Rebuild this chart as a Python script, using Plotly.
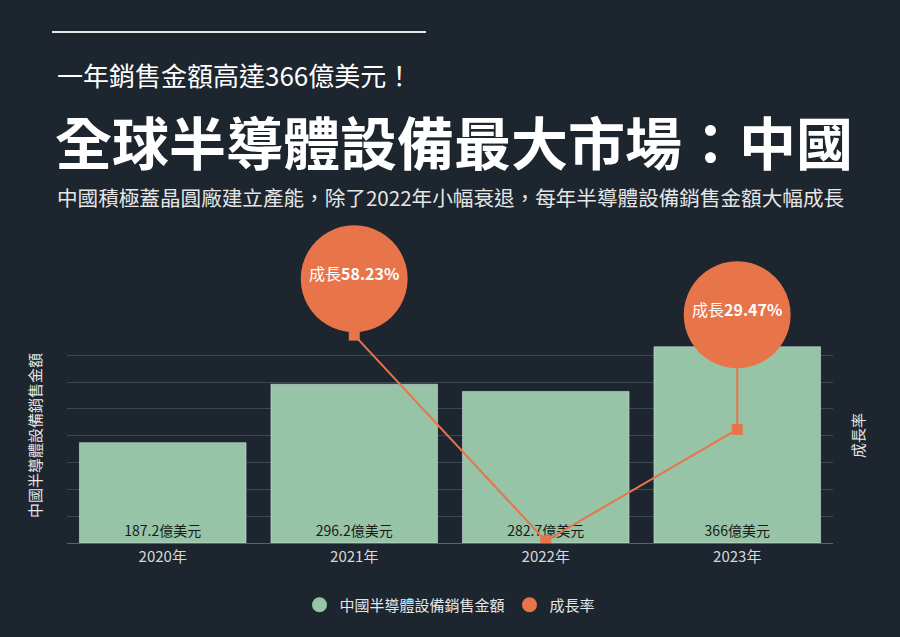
import plotly.graph_objects as go

years = ["2020年", "2021年", "2022年", "2023年"]
sales = [187.2, 296.2, 282.7, 366]
sales_text = ["187.2億美元", "296.2億美元", "282.7億美元", "366億美元"]
growth = [None, 58.23, -4.56, 29.47]
bubble_years = ["2021年", "2023年"]
bubble_base = [58.23, 29.47]
bubble_lift = [62, 120]  # pixels from marker to bubble centre
bubble_text = ["成長<b>58.23%</b>", "成長<b>29.47%</b>"]

bg = "#1d252f"
green = "#97c3a7"
orange = "#e8744a"
font = "Noto Sans CJK TC"

L, R, T, B = 67, 67, 328, 94
W, H = 900, 637
ph = H - T - B
pw = W - L - R
def px(x):
    return (x - L) / pw
def py(y):
    return (H - B - y) / ph

fig = go.Figure()
fig.add_trace(go.Bar(x=years, y=sales, name="中國半導體設備銷售金額", marker_color=green,
                     text=sales_text, textposition="inside", insidetextanchor="start",
                     textfont=dict(color="#1a1a1a", size=14, family=font), yaxis="y", showlegend=False))
fig.add_trace(go.Scatter(x=years, y=growth, name="成長率", mode="lines+markers",
                         line=dict(color=orange, width=2), showlegend=False,
                         marker=dict(symbol="square", size=11, color=orange), yaxis="y2"))
# legend entries with round swatches
fig.add_trace(go.Scatter(x=[None], y=[None], mode="markers", name="中國半導體設備銷售金額",
                         marker=dict(symbol="circle", size=15, color=green)))
fig.add_trace(go.Scatter(x=[None], y=[None], mode="markers", name="成長率",
                         marker=dict(symbol="circle", size=15, color=orange)))

annotations = []
for yr, b0, lift, txt in zip(bubble_years, bubble_base, bubble_lift, bubble_text):
    # stem
    annotations.append(dict(x=yr, y=b0, xref="x", yref="y2", text="", showarrow=True,
                            ax=0, ay=-lift, arrowhead=0, arrowwidth=2, arrowcolor=orange))
    # bubble
    annotations.append(dict(x=yr, y=b0, xref="x", yref="y2", text="●", showarrow=False,
                            yshift=lift + 7, font=dict(size=140, color=orange, family="DejaVu Sans"),
                            xanchor="center", yanchor="middle"))
    annotations.append(dict(x=yr, y=b0, xref="x", yref="y2", text=txt, showarrow=False,
                            yshift=lift, font=dict(size=16, color="white"),
                            xanchor="center", yanchor="middle"))

annotations += [
    dict(text="一年銷售金額高達366億美元！", xref="paper", yref="paper", x=px(55), y=py(75),
         xanchor="left", yanchor="middle", showarrow=False, font=dict(size=26, color="white")),
    dict(text="<b>全球半導體設備最大市場：中國</b>", xref="paper", yref="paper", x=px(53), y=py(140),
         xanchor="left", yanchor="middle", showarrow=False, font=dict(size=57, color="white")),
    dict(text="中國積極蓋晶圓廠建立產能，除了2022年小幅衰退，每年半導體設備銷售金額大幅成長",
         xref="paper", yref="paper", x=px(55), y=py(197), xanchor="left", yanchor="middle",
         showarrow=False, font=dict(size=20.6, color="#e6e6e6")),
]

fig.update_layout(
    width=W, height=H, paper_bgcolor=bg, plot_bgcolor=bg,
    margin=dict(l=L, r=R, t=T, b=B, autoexpand=False),
    font=dict(family=font, color="#e6e6e6"),
    bargap=0.13,
    xaxis=dict(showgrid=False, tickfont=dict(size=15, color="#d8d8d8"), linecolor="#59626d",
               showline=True, ticks=""),
    yaxis=dict(range=[0, 401], dtick=50, showticklabels=False, gridcolor="#3d4753", zeroline=False,
               title=dict(text="中國半導體設備銷售金額", font=dict(size=15), standoff=20)),
    yaxis2=dict(range=[-5.2, 60.4], overlaying="y", side="right", showgrid=False, zeroline=False,
                showticklabels=False,
                title=dict(text="成長率", font=dict(size=15), standoff=20)),
    legend=dict(orientation="h", x=0.5, xanchor="center", y=py(605), yanchor="middle",
                font=dict(size=15)),
    shapes=[dict(type="line", xref="paper", yref="paper", x0=px(52), x1=px(426), y0=py(32), y1=py(32),
                 line=dict(color="#e6e6e6", width=2))],
    annotations=annotations,
)
fig.write_html("out.html", config={"displayModeBar": False},
               post_script="document.body.style.margin='0';")
